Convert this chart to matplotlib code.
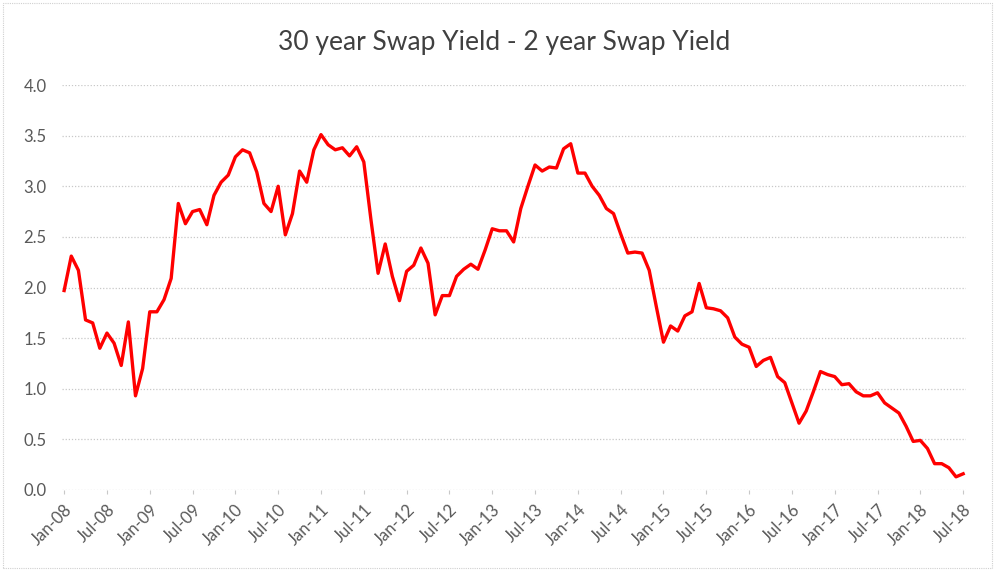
import numpy as np
import matplotlib.pyplot as plt
from matplotlib.patches import Rectangle

# Valores mensais (Jan-08 .. Jul-18)
spread = [
  1.97, 2.31, 2.17, 1.68, 1.65, 1.40, 1.55, 1.45, 1.23, 1.66, 0.93, 1.20,
  1.76, 1.76, 1.88, 2.09, 2.83, 2.63, 2.75, 2.77, 2.62, 2.91, 3.04, 3.11,
  3.29, 3.36, 3.33, 3.14, 2.83, 2.75, 3.00, 2.52, 2.73, 3.15, 3.04, 3.36,
  3.51, 3.41, 3.36, 3.38, 3.30, 3.39, 3.24, 2.67, 2.14, 2.43, 2.11, 1.87,
  2.16, 2.22, 2.39, 2.24, 1.73, 1.92, 1.92, 2.11, 2.18, 2.23, 2.18, 2.37,
  2.58, 2.56, 2.56, 2.45, 2.78, 3.00, 3.21, 3.15, 3.19, 3.18, 3.37, 3.42,
  3.13, 3.13, 3.00, 2.91, 2.78, 2.73, 2.53, 2.34, 2.35, 2.34, 2.17, 1.81,
  1.46, 1.62, 1.57, 1.72, 1.76, 2.04, 1.80, 1.79, 1.77, 1.70, 1.51, 1.44,
  1.41, 1.22, 1.28, 1.31, 1.12, 1.06, 0.86, 0.66, 0.78, 0.97, 1.17, 1.14,
  1.12, 1.04, 1.05, 0.97, 0.93, 0.93, 0.96, 0.86, 0.81, 0.76, 0.63, 0.48,
  0.49, 0.41, 0.26, 0.26, 0.22, 0.13, 0.16,
]
tick_labels = [
  'Jan-08', 'Jul-08', 'Jan-09', 'Jul-09', 'Jan-10', 'Jul-10', 'Jan-11',
  'Jul-11', 'Jan-12', 'Jul-12', 'Jan-13', 'Jul-13', 'Jan-14', 'Jul-14',
  'Jan-15', 'Jul-15', 'Jan-16', 'Jul-16', 'Jan-17', 'Jul-17', 'Jan-18',
  'Jul-18',
]
y_ticks = [0.0, 0.5, 1.0, 1.5, 2.0, 2.5, 3.0, 3.5, 4.0]

plt.rcParams['font.family'] = ['Lato', 'DejaVu Sans']

fig = plt.figure(figsize=(9.95, 5.7), dpi=100)
ax = fig.add_axes([62 / 995, 1 - 490 / 570, (966 - 62) / 995, (490 - 85) / 570])

meses = np.arange(len(spread))
ax.plot(meses, spread, color='#ff0000', linewidth=2.4, solid_joinstyle='round')

ax.set_ylim(0, 4)
ax.set_xlim(-0.3, len(spread) - 1 + 0.4)
ax.set_yticks(y_ticks)
ax.set_yticklabels([f'{v:.1f}' for v in y_ticks])
ax.set_xticks(np.arange(0, len(spread), 6))
ax.set_xticklabels(tick_labels, rotation=45, ha='right', rotation_mode='anchor')

ax.grid(axis='y', color='#c8c8c8', linestyle=(0, (1, 1.5)), linewidth=0.9)
ax.set_axisbelow(True)
for s in ax.spines.values():
  s.set_visible(False)
ax.tick_params(axis='both', labelcolor='#595959', labelsize=12)
ax.tick_params(axis='y', length=0, pad=11)
ax.tick_params(axis='x', length=3, width=0.8, color='#c8c8c8', direction='out', pad=5)

fig.text(0.507, 0.925, '30 year Swap Yield - 2 year Swap Yield',
         ha='center', va='center', fontsize=19, color='#404040')

# borda do grafico
fig.patches.append(Rectangle((0.003, 0.004), 0.994, 0.99, transform=fig.transFigure,
                             fill=False, edgecolor='#d0d0d0', linewidth=0.8,
                             linestyle=(0, (1, 1))))

fig.savefig('out.png', dpi=100)
